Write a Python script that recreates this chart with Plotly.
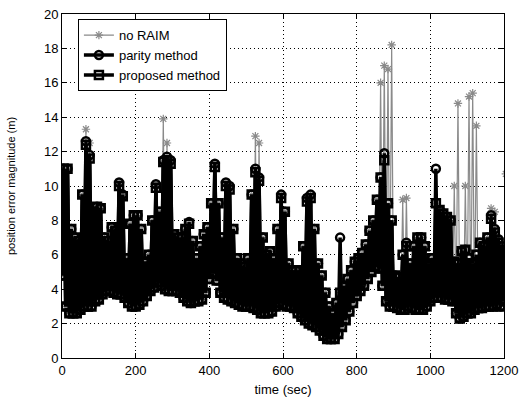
import plotly.graph_objects as go

# time samples (sec); each bin has a low and a high reading
t = list(range(0, 1201, 10))

# lower envelope of the error (all methods share it)
low = [4.8, 3.0, 2.6, 2.6, 2.6, 2.8, 3.0, 3.0, 3.0, 3.3,
       3.4, 3.7, 3.9, 3.9, 3.8, 3.7, 3.7, 3.5, 3.2, 3.0,
       3.0, 3.1, 3.3, 3.6, 3.9, 4.1, 4.4, 4.2, 4.0, 3.9,
       3.9, 3.9, 3.8, 3.5, 3.3, 3.2, 3.3, 3.3, 3.4, 3.8,
       4.6, 4.9, 4.5, 3.8, 3.5, 3.4, 3.3, 3.2, 3.1, 3.0,
       3.0, 3.0, 2.9, 2.8, 2.6, 2.6, 2.6, 2.7, 3.0, 3.2,
       3.1, 3.0, 3.0, 2.9, 2.6, 2.4, 2.2, 2.0, 1.9, 1.8,
       1.6, 1.3, 1.1, 1.1, 1.1, 1.4, 1.8, 2.2, 2.7, 3.2,
       3.6, 3.9, 4.2, 4.6, 5.0, 5.3, 5.2, 4.2, 3.3, 3.0,
       3.0, 2.9, 2.8, 2.8, 3.0, 2.9, 2.8, 2.8, 2.8, 3.0,
       3.3, 3.5, 3.5, 3.5, 3.4, 3.4, 3.3, 2.6, 2.3, 2.4,
       2.6, 2.6, 2.8, 2.9, 2.9, 3.0, 3.0, 3.0, 3.1, 3.0,
       3.3]

# upper envelope: proposed method
prop_high = [11.0, 11.0, 7.5, 7.0, 6.8, 9.5, 12.4, 11.6, 8.5, 8.8,
             8.7, 7.0, 6.8, 7.6, 7.4, 10.0, 9.4, 5.8, 7.8, 8.3,
             8.3, 7.5, 5.6, 6.0, 8.0, 9.9, 8.5, 11.4, 11.5, 11.3,
             7.2, 7.0, 7.0, 7.5, 7.8, 6.8, 5.8, 6.5, 7.2, 7.6,
             9.0, 11.1, 9.0, 7.0, 10.0, 9.8, 7.5, 5.8, 5.5, 5.3,
             5.8, 9.5, 10.8, 10.3, 7.0, 6.0, 6.2, 5.8, 7.5, 9.3,
             8.5, 5.5, 5.1, 5.1, 5.1, 6.5, 9.1, 9.3, 7.5, 5.5,
             4.8, 3.8, 3.0, 2.6, 3.2, 3.8, 4.2, 4.6, 5.1, 5.6,
             5.8, 6.1, 6.6, 7.4, 8.0, 9.2, 10.5, 11.5, 9.0, 8.0,
             4.8, 4.7, 6.0, 6.5, 5.5, 6.5, 7.0, 7.0, 6.5, 5.5,
             5.8, 9.0, 8.6, 8.4, 8.2, 8.0, 5.6, 5.5, 6.2, 6.3,
             5.8, 5.5, 6.0, 6.7, 6.5, 7.0, 8.1, 7.3, 6.7, 6.3,
             4.5]

# upper envelope: parity method
par_high = [11.0, 11.0, 7.5, 7.0, 6.8, 9.5, 12.6, 11.8, 8.5, 8.8,
            8.7, 7.0, 6.8, 7.6, 7.4, 10.2, 9.5, 5.8, 7.8, 8.3,
            8.3, 7.5, 5.6, 6.0, 8.0, 10.1, 8.5, 11.5, 11.7, 11.5,
            7.2, 7.0, 7.0, 7.5, 7.9, 6.8, 5.8, 6.5, 7.2, 7.6,
            9.0, 11.3, 9.0, 7.0, 10.2, 10.0, 7.5, 5.8, 5.5, 5.3,
            5.8, 9.5, 11.0, 10.5, 7.0, 6.0, 6.2, 5.8, 7.5, 9.5,
            8.5, 5.5, 5.1, 5.1, 5.1, 6.5, 9.3, 9.5, 7.5, 5.5,
            4.8, 3.8, 3.0, 2.6, 3.2, 7.0, 4.2, 4.6, 5.1, 5.6,
            5.8, 6.1, 6.6, 7.4, 8.0, 9.2, 10.5, 11.9, 9.0, 8.0,
            4.8, 4.7, 6.0, 6.7, 5.5, 6.5, 7.0, 7.0, 6.5, 5.5,
            5.8, 11.0, 8.6, 8.4, 8.2, 8.0, 5.6, 5.5, 6.2, 6.3,
            5.8, 5.5, 6.0, 6.7, 6.5, 7.0, 8.3, 7.5, 6.9, 6.5,
            4.5]

# upper envelope: no RAIM
raim_high = [11.0, 11.0, 7.5, 7.0, 6.8, 9.5, 13.3, 12.5, 8.5, 8.8,
             8.7, 7.0, 6.8, 7.6, 7.4, 10.2, 9.5, 5.8, 7.8, 8.3,
             8.3, 7.5, 5.6, 6.0, 8.0, 10.1, 8.5, 13.9, 12.5, 11.5,
             7.2, 7.0, 7.0, 7.5, 7.9, 6.8, 5.8, 6.5, 7.2, 7.6,
             9.0, 11.3, 9.0, 7.0, 10.2, 10.0, 7.5, 5.8, 5.5, 5.3,
             5.8, 9.5, 12.9, 12.5, 7.0, 6.0, 6.2, 5.8, 7.5, 9.5,
             8.5, 5.5, 5.1, 5.1, 5.1, 6.5, 9.3, 9.5, 7.5, 5.5,
             4.8, 3.8, 3.0, 2.6, 3.2, 3.8, 4.2, 4.6, 5.1, 5.6,
             5.8, 6.1, 6.6, 7.4, 8.0, 9.2, 16.0, 17.0, 16.8, 18.2,
             4.8, 4.7, 9.2, 9.3, 5.5, 6.5, 7.0, 7.0, 6.5, 5.5,
             5.8, 9.0, 8.6, 8.4, 8.2, 8.0, 10.0, 14.8, 6.2, 10.0,
             15.2, 15.4, 13.5, 6.7, 6.5, 7.0, 8.7, 8.5, 6.9, 6.5,
             10.7]

half_step = 5  # high reading sits half a bin after the low reading


def zigzag(lo, hi):
    xs, ys = [], []
    for ti, a, b in zip(t, lo, hi):
        xs += [ti, ti + half_step]
        ys += [a, b]
    return xs, ys


fig = go.Figure()

x0, y0 = zigzag(low, raim_high)
fig.add_trace(go.Scatter(
    x=x0, y=y0, mode="lines+markers", name="no RAIM",
    line=dict(color="#8a8a8a", width=1.2),
    marker=dict(symbol="asterisk-open", size=7,
                line=dict(color="#8a8a8a", width=1.2))))

x1, y1 = zigzag(low, par_high)
fig.add_trace(go.Scatter(
    x=x1, y=y1, mode="lines+markers", name="parity method",
    line=dict(color="black", width=3.5),
    marker=dict(symbol="circle-open", size=8,
                line=dict(color="black", width=2.5))))

x2, y2 = zigzag(low, prop_high)
fig.add_trace(go.Scatter(
    x=x2, y=y2, mode="lines+markers", name="proposed method",
    line=dict(color="black", width=3.5),
    marker=dict(symbol="square-open", size=8,
                line=dict(color="black", width=2.5))))

font_family = "Liberation Sans, Arial, sans-serif"
axis_common = dict(
    showline=True, linecolor="black", linewidth=1, mirror="ticks",
    ticks="inside", ticklen=5, tickcolor="black",
    showgrid=True, gridcolor="black", gridwidth=1, griddash="1px,3px",
    zeroline=False, automargin=False, ticklabeloverflow="allow",
    tickfont=dict(family=font_family, size=13, color="black"),
)

fig.update_xaxes(range=[0, 1200], tick0=0, dtick=200,
                 title=dict(text="time (sec)", standoff=8,
                            font=dict(family=font_family, size=13, color="black")),
                 **axis_common)
fig.update_yaxes(range=[0, 20], tick0=0, dtick=2,
                 title=dict(text="position error magnitude (m)", standoff=26,
                            font=dict(family=font_family, size=11, color="black")),
                 **axis_common)

fig.update_layout(
    width=520, height=401,
    margin=dict(l=62, r=16, t=14, b=43),
    paper_bgcolor="white", plot_bgcolor="white",
    showlegend=True,
    legend=dict(x=0.036, y=0.985, xanchor="left", yanchor="top",
                bgcolor="white", bordercolor="black", borderwidth=1,
                font=dict(family=font_family, size=13, color="black"),
                tracegroupgap=0, itemwidth=30),
)

fig.write_html("out.html", config={"displayModeBar": False},
               post_script="document.body.style.margin='0';document.body.style.overflow='hidden';")
